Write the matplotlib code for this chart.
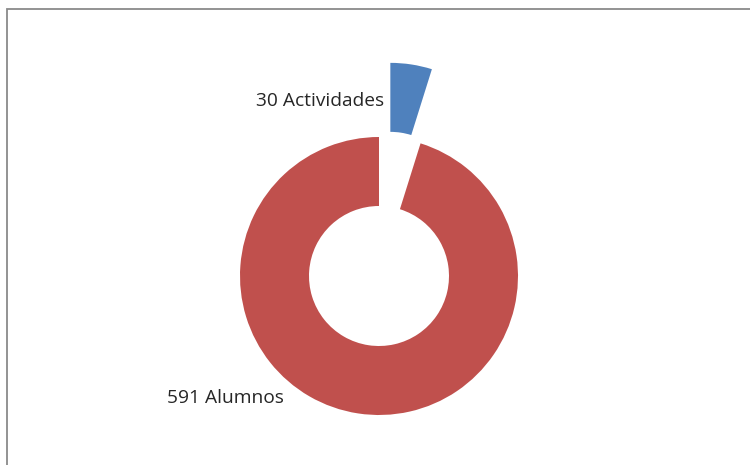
import matplotlib
matplotlib.use("Agg")
import matplotlib.pyplot as plt
from matplotlib.patches import Rectangle

categories = ["Actividades", "Alumnos"]
values = [30, 591]
colors = ["#4F81BD", "#C0504D"]
labels = [f"{v} {c}" for v, c in zip(values, categories)]

W, H = 750, 465
fig = plt.figure(figsize=(W / 100, H / 100), dpi=100)
ax = fig.add_axes([0, 0, 1, 1])
ax.set_xlim(0, W)
ax.set_ylim(0, H)
ax.set_aspect("equal")
ax.axis("off")

cx, cy = 379, H - 276
R = 139
ring = 69
wedges, _ = ax.pie(values, colors=colors, startangle=90, counterclock=False,
                   radius=R, center=(cx, cy), explode=[75, 0],
                   wedgeprops=dict(width=ring, edgecolor="none"), frame=True)
ax.set_xlim(0, W)
ax.set_ylim(0, H)
ax.axis("off")

font = ["Open Sans", "DejaVu Sans"]
ax.text(384, H - 101, labels[0], ha="right", va="center", fontsize=13.8,
        family=font, color="#262626")
ax.text(167, H - 398, labels[1], ha="left", va="center", fontsize=13.8,
        family=font, color="#262626")

ax.add_patch(Rectangle((6.5, -20), W + 40, H - 9 + 20, fill=False,
                       edgecolor="#8a8a8a", linewidth=1.3, clip_on=False))

fig.savefig("out.png", dpi=100)
